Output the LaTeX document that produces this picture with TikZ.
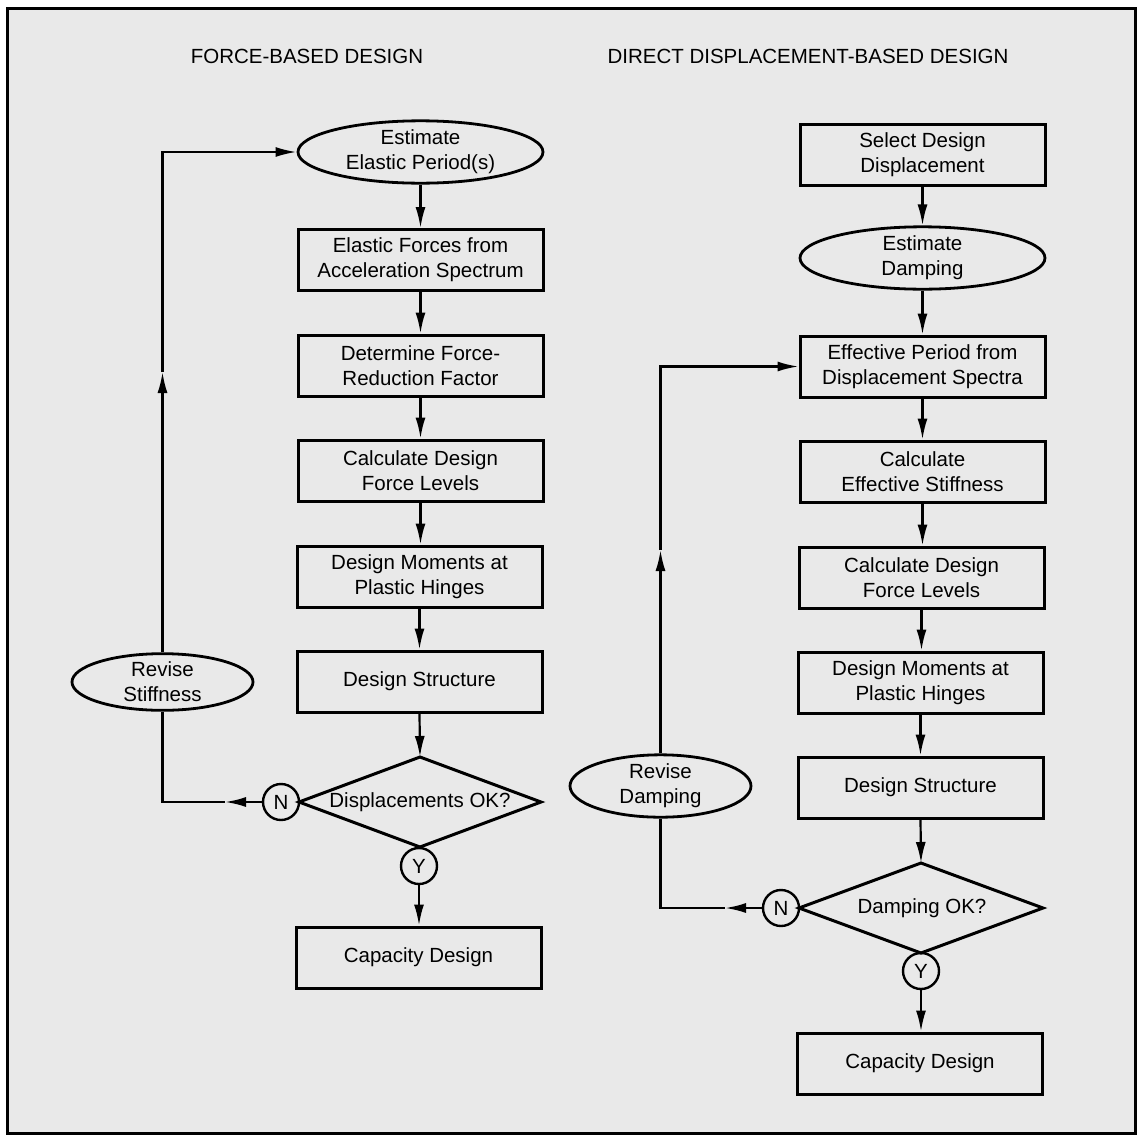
\documentclass[tikz,border=0pt]{standalone}
\usepackage{fontspec}
\setmainfont{Liberation Sans}
\usetikzlibrary{shapes.geometric,arrows.meta}
\definecolor{bg}{HTML}{E9E9E9}
\tikzset{
  txt/.style={font=\fontsize{20.5}{25}\selectfont, align=center, inner sep=0pt},
  stepbox/.style={txt, draw, line width=3pt, minimum width=245pt, minimum height=61pt},
  ell/.style={txt, ellipse, draw, line width=2.8pt},
  yn/.style={txt, circle, draw, line width=2.4pt, minimum size=36pt},
  dline/.style={line width=3pt, line join=miter},
  conn/.style={line width=2.2pt},
  arr/.style={conn, -{Latex[length=21pt,width=10pt]}},
  ttl/.style={font=\fontsize{20.5}{25}\selectfont, inner sep=0pt}
}
\begin{document}
\begin{tikzpicture}[x=1pt,y=-1pt]
\useasboundingbox (0,0) rectangle (1142,1135);
\fill[white] (0,0) rectangle (1142,1135);
\fill[bg] (7,8) rectangle (1135,1133);
\draw[line width=3pt] (7,8) rectangle (1135,1133);

% titles
\node[ttl] (t1) at (307,56) {FORCE-BASED DESIGN};
\node[ttl] (t2) at (808,56) {DIRECT DISPLACEMENT-BASED DESIGN};

% ---------- left column ----------
\node[ell, minimum width=245pt, minimum height=51pt] (L0) at (420.5,152) {Estimate\\Elastic Period(s)};
\node[stepbox] (L1) at (420.5,260) {Elastic Forces from\\Acceleration Spectrum};
\node[stepbox] (L2) at (420.5,365.5) {Determine Force-\\Reduction Factor};
\node[stepbox] (L3) at (420.5,470.5) {Calculate Design\\Force Levels};
\node[stepbox] (L4) at (419.5,576.5) {Design Moments at\\Plastic Hinges};
\node[stepbox] (L5) at (419.5,681.5) {Design Structure};
\node[txt] (L6) at (420,802) {Displacements OK?};
\coordinate (L6w) at (299,802);
\coordinate (L6n) at (420,757);
\coordinate (L6e) at (541,802);
\coordinate (L6s) at (420,847);
\draw[dline] (L6w) -- (L6n) -- (L6e) -- (L6s) -- cycle;
\node[yn] (LN) at (281,802) {N};
\node[yn] (LY) at (419,866) {Y};
\node[stepbox] (L7) at (418.5,957.5) {Capacity Design};
\node[ell, minimum width=181pt, minimum height=50pt] (LR) at (162.5,682) {Revise\\Stiffness};

\draw[arr] (L0) -- (L1);
\draw[arr] (L1) -- (L2);
\draw[arr] (L2) -- (L3);
\draw[arr] (L3.south) -- (L4.north -| L3.south);
\draw[arr] (L4) -- (L5);
\draw[arr] (L5.south) -- (L6n);
\draw[arr] (LY) -- (L7.north -| LY);
\coordinate (LNa) at (225,802);
\draw[arr] (LN) -- (LNa);
\draw[conn] (LNa) -| (LR.south);
\coordinate (LUp) at (162.5,372);
\draw[arr] (LR.north) -- (LUp);
\draw[arr] (LUp) |- (L0.west);

% ---------- right column ----------
\node[stepbox] (R0) at (922.5,155) {Select Design\\Displacement};
\node[ell, minimum width=245pt, minimum height=52pt] (R1) at (922.5,258) {Estimate\\Damping};
\node[stepbox] (R2) at (922.5,366.5) {Effective Period from\\Displacement Spectra};
\node[stepbox] (R3) at (922.5,471.5) {Calculate\\Effective Stiffness};
\node[stepbox] (R4) at (921.5,577.5) {Calculate Design\\Force Levels};
\node[stepbox] (R5) at (920.5,682.5) {Design Moments at\\Plastic Hinges};
\node[stepbox] (R6) at (920.5,787.5) {Design Structure};
\node[txt] (R7) at (922,908) {Damping OK?};
\coordinate (R7w) at (799,908);
\coordinate (R7n) at (921,863);
\coordinate (R7e) at (1043,908);
\coordinate (R7s) at (921,953);
\draw[dline] (R7w) -- (R7n) -- (R7e) -- (R7s) -- cycle;
\node[yn] (RN) at (781,908) {N};
\node[yn] (RY) at (921,971) {Y};
\node[stepbox] (R8) at (920,1063.5) {Capacity Design};
\node[ell, minimum width=181pt, minimum height=50pt] (RR) at (660.5,786) {Revise\\Damping};

\draw[arr] (R0.south) -- (R1.north);
\draw[arr] (R1.south) -- (R2.north);
\draw[arr] (R2) -- (R3);
\draw[arr] (R3.south) -- (R4.north -| R3.south);
\draw[arr] (R4.south) -- (R5.north -| R4.south);
\draw[arr] (R5) -- (R6);
\draw[arr] (R6.south) -- (R7n);
\draw[arr] (RY) -- (R8.north -| RY);
\coordinate (RNa) at (725,908);
\draw[arr] (RN) -- (RNa);
\draw[conn] (RNa) -| (RR.south);
\coordinate (RUp) at (660.5,550);
\draw[arr] (RR.north) -- (RUp);
\draw[arr] (RUp) |- (R2.west);
\end{tikzpicture}
\end{document}
